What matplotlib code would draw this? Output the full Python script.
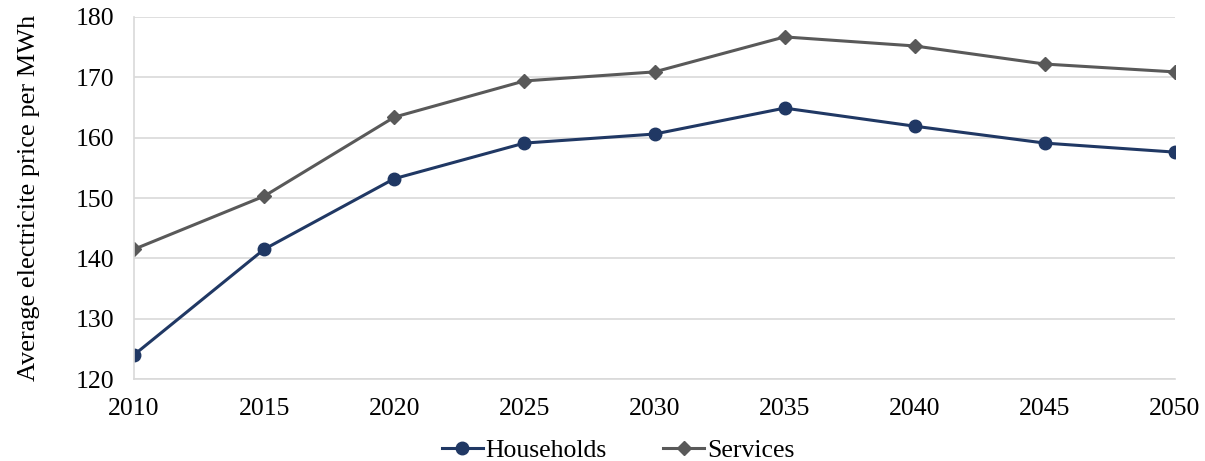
import matplotlib
matplotlib.use("Agg")
import matplotlib.pyplot as plt

plt.rcParams['font.family'] = ['Liberation Serif', 'DejaVu Serif']

years = [2010, 2015, 2020, 2025, 2030, 2035, 2040, 2045, 2050]
households = [124.0, 141.5, 153.2, 159.1, 160.6, 164.9, 161.9, 159.1, 157.6]
services = [141.5, 150.3, 163.4, 169.4, 170.9, 176.7, 175.2, 172.2, 170.9]

fig = plt.figure(figsize=(12.05, 4.61), dpi=100)
ax = fig.add_axes([134 / 1205, 82 / 461, 1041 / 1205, 362 / 461])

ax.plot(years, households, color='#203864', lw=2.2, marker='o', ms=9, label='Households')
ax.plot(years, services, color='#595959', lw=2.2, marker='D', ms=7, label='Services')

ax.set_xlim(2010, 2050)
ax.set_ylim(120, 180)
ax.set_xticks(years)
ax.set_yticks(range(120, 181, 10))
ax.grid(axis='y', color='#d9d9d9', lw=1.2)
ax.set_axisbelow(True)
for s in ['top', 'right']:
    ax.spines[s].set_visible(False)
ax.spines['left'].set_color('#d9d9d9')
ax.spines['bottom'].set_color('#d9d9d9')
ax.spines['left'].set_linewidth(1.2)
ax.spines['bottom'].set_linewidth(1.2)
ax.tick_params(length=0, labelsize=18.5, colors='black')
ax.tick_params(axis='y', pad=14)
ax.tick_params(axis='x', pad=14)
ax.set_ylabel('Average electricite price per MWh', fontsize=19, labelpad=26)

ax.legend(loc='upper center', bbox_to_anchor=(0.465, -0.115), ncol=2, frameon=False,
          fontsize=18.5, handlelength=1.6, handletextpad=0.1, columnspacing=2.2,
          borderpad=0.2)

plt.savefig('out.png', dpi=100)
